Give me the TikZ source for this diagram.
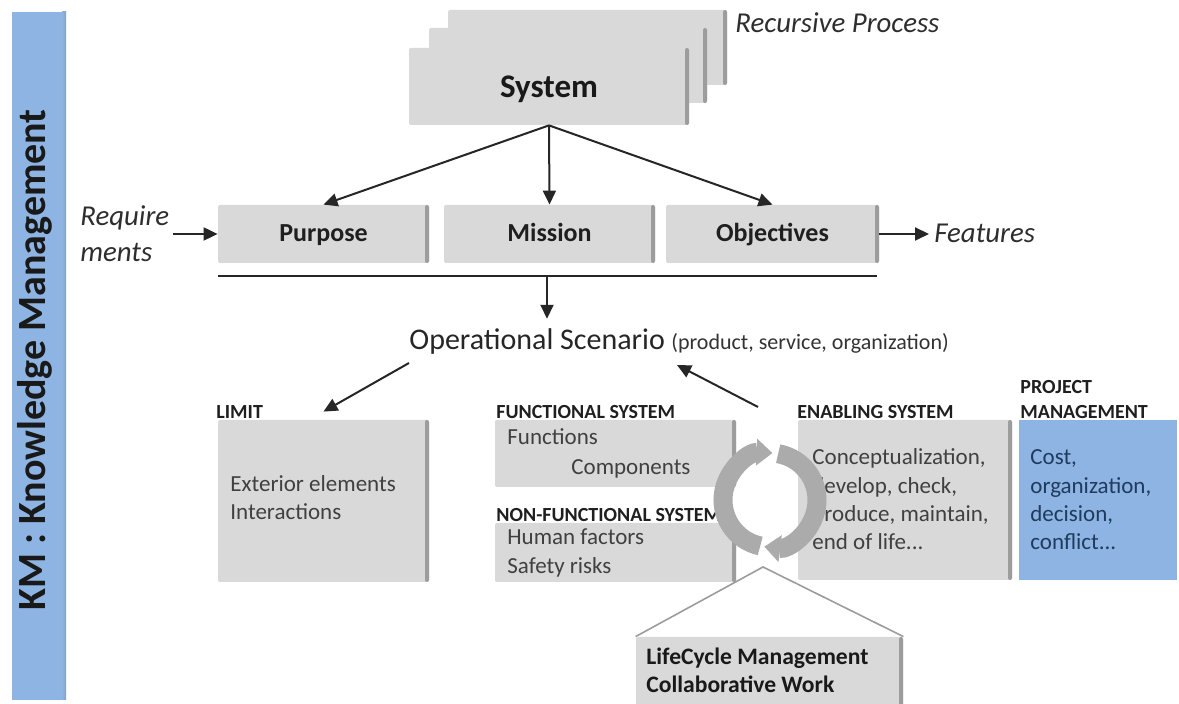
\documentclass[tikz,border=0pt]{standalone}
\usepackage{fontspec}
\setmainfont{Carlito}
\usetikzlibrary{arrows.meta,fit,calc}
\definecolor{boxgray}{HTML}{D9D9D9}
\definecolor{edgegray}{HTML}{9C9C9C}
\definecolor{kmblue}{HTML}{8DB4E2}
\definecolor{navy}{HTML}{1F3B5E}
\definecolor{txt}{HTML}{404040}
\definecolor{ringgray}{HTML}{ABABAB}
\tikzset{
  gbox/.style={fill=boxgray, inner sep=0pt, rounded corners=1pt,
    path picture={\shade[left color=boxgray, right color=edgegray]
      ([xshift=-2pt]path picture bounding box.north east) rectangle (path picture bounding box.south east);}},
  arr/.style={draw=black!85, line width=1pt, -{Triangle[length=7pt,width=6.5pt]}},
  hdr/.style={font=\bfseries\fontsize{10}{12}\selectfont, inner sep=0pt, anchor=base west, text=black!88},
  body/.style={font=\fontsize{11.5}{14}\selectfont, inner sep=0pt, anchor=base west, text=txt},
  pbody/.style={font=\fontsize{11.5}{14}\selectfont, inner sep=0pt, anchor=base west, text=navy},
  ital/.style={font=\itshape\fontsize{14.4}{17}\selectfont, inner sep=0pt, anchor=base west, text=black!82},
  midbox/.style={gbox, font=\bfseries\fontsize{13}{15}\selectfont, text=black!88, minimum height=29pt,
    text height=10.5pt, text depth=2.5pt},
  ringarrow/.style={draw=ringgray, line width=9.5pt, -{Triangle[length=8pt,width=13pt]}},
}
\begin{document}
\begin{tikzpicture}[x=0.5pt,y=-0.5pt]
\useasboundingbox (0,0) rectangle (1179,704);
\fill[white] (0,0) rectangle (1179,704);
\clip (0,0) rectangle (1179,704);

% KM bar
\fill[kmblue] (12,12) rectangle (66,700);
\shade[left color=kmblue, right color=kmblue!60!gray] (62,12) rectangle (66,700);
\node[rotate=90, font=\bfseries\fontsize{20}{24}\selectfont, text=black!90, inner sep=0pt] (km) at (35,360) {KM : Knowledge Management};

% System stack
\node[gbox, minimum width=139.5pt, minimum height=37.5pt] (sys3) at (587.5,47.5) {};
\node[gbox, minimum width=139pt, minimum height=37.5pt] (sys2) at (568,65.5) {};
\node[gbox, minimum width=140pt, minimum height=38.5pt, text height=15pt, text depth=3.5pt,
      font=\bfseries\fontsize{16.5}{20}\selectfont, text=black!90] (sys) at (549,86.5) {System};
\node[ital] (rec) at (735,33) {Recursive Process};

% Purpose / Mission / Objectives
\node[midbox, minimum width=105.5pt] (purpose) at (323.5,234) {Purpose};
\node[midbox, minimum width=105.5pt] (mission) at (549.5,234) {Mission};
\node[midbox, minimum width=106.5pt] (obj) at (772.5,234) {Objectives};
\draw[arr] (sys.south) -- (purpose.north);
\draw[arr] (sys.south) -- (mission.north);
\draw[arr] (sys.south) -- (obj.north);

\node[ital] (req1) at (80,226) {Require};
\node[ital] (req2) at (80,262) {ments};
\coordinate (reqa) at (173,234);
\draw[arr] (reqa) -- (purpose.west);
\node[ital] (feat) at (934,243) {Features};
\draw[arr, shorten >=2.5pt] (obj.east) -- (obj.east -| feat.west);

% line and operational scenario
\coordinate (lineL) at (218,276);
\coordinate (lineR) at (877,276);
\coordinate (lineM) at (547,276);
\draw[line width=1.1pt, black!85] (lineL) -- (lineR);
\node[font=\fontsize{15}{18}\selectfont, inner sep=0pt, anchor=base west, text=black!85] (ops) at (409,350) {Operational Scenario};
\node[font=\fontsize{11}{13}\selectfont, inner sep=0pt, anchor=base west, text=black!80] (opsd) at (671,350) {(product, service, organization)};
\draw[arr, shorten >=5pt] (lineM) -- (lineM |- ops.north);

% LIMIT
\node[gbox, fit={(218,420) (429,582)}] (limit) {};
\node[hdr] (limith) at (216,418.5) {LIMIT};
\node[body] (lim1) at (230,492) {Exterior elements};
\node[body] (lim2) at (230,520) {Interactions};
\coordinate (a1) at (409,363);
\draw[arr] (a1) -- ([yshift=4pt]limit.north);

% Functional / non-functional
\node[gbox, fit={(495,420) (736,487)}] (func) {};
\node[hdr] (funch) at (496,418.5) {FUNCTIONAL SYSTEM};
\node[body] (f1) at (507,445) {Functions};
\node[body] (f2) at (571,475) {Components};
\node[gbox, fit={(495,523) (736,582)}] (nonf) {};
\node[hdr] (nonfh) at (496,521.5) {NON-FUNCTIONAL SYSTEM};
\node[body] (n1) at (507,545) {Human factors};
\node[body] (n2) at (507,574) {Safety risks};

% Enabling
\node[gbox, fit={(798,420) (1012,580)}] (enab) {};
\node[hdr] (enabh) at (797,418.5) {ENABLING SYSTEM};
\node[body] (e1) at (812,465) {Conceptualization,};
\node[body] (e2) at (812,494) {develop, check,};
\node[body] (e3) at (812,522) {produce, maintain,};
\node[body] (e4) at (812,550) {end of life...};
\coordinate (a2) at (758,407);
\coordinate (a3) at (677,365);
\draw[arr] (a2) -- (a3);

% Project management
\node[fill=kmblue, inner sep=0pt, fit={(1019,420) (1177,580)}] (proj) {};
\node[hdr] (projh1) at (1020,393.5) {PROJECT};
\node[hdr] (projh2) at (1020,418.5) {MANAGEMENT};
\node[pbody] (p1) at (1030,465) {Cost,};
\node[pbody] (p2) at (1030,494) {organization,};
\node[pbody] (p3) at (1030,522) {decision,};
\node[pbody] (p4) at (1030,550) {conflict...};

% LifeCycle callout
\node[gbox, fit={(636,637) (903,720)}] (lcbox) {};
\coordinate (apex) at (763,567);
\draw[edgegray, line width=0.8pt] (lcbox.north west) -- (apex) -- (lcbox.north east);
\node[font=\bfseries\fontsize{11.8}{14}\selectfont, inner sep=0pt, anchor=base west, text=black!90] (lc1) at (646,665) {LifeCycle Management};
\node[font=\bfseries\fontsize{11.8}{14}\selectfont, inner sep=0pt, anchor=base west, text=black!90] (lc2) at (646,693) {Collaborative Work};

% cycle ring
\coordinate (rc) at (770,500);
\draw[ringarrow] ($(rc)+(102:47)$) arc[start angle=102, end angle=273, radius=47];
\draw[ringarrow] ($(rc)+(280:47)$) arc[start angle=280, end angle=457, radius=47];
\end{tikzpicture}
\end{document}
